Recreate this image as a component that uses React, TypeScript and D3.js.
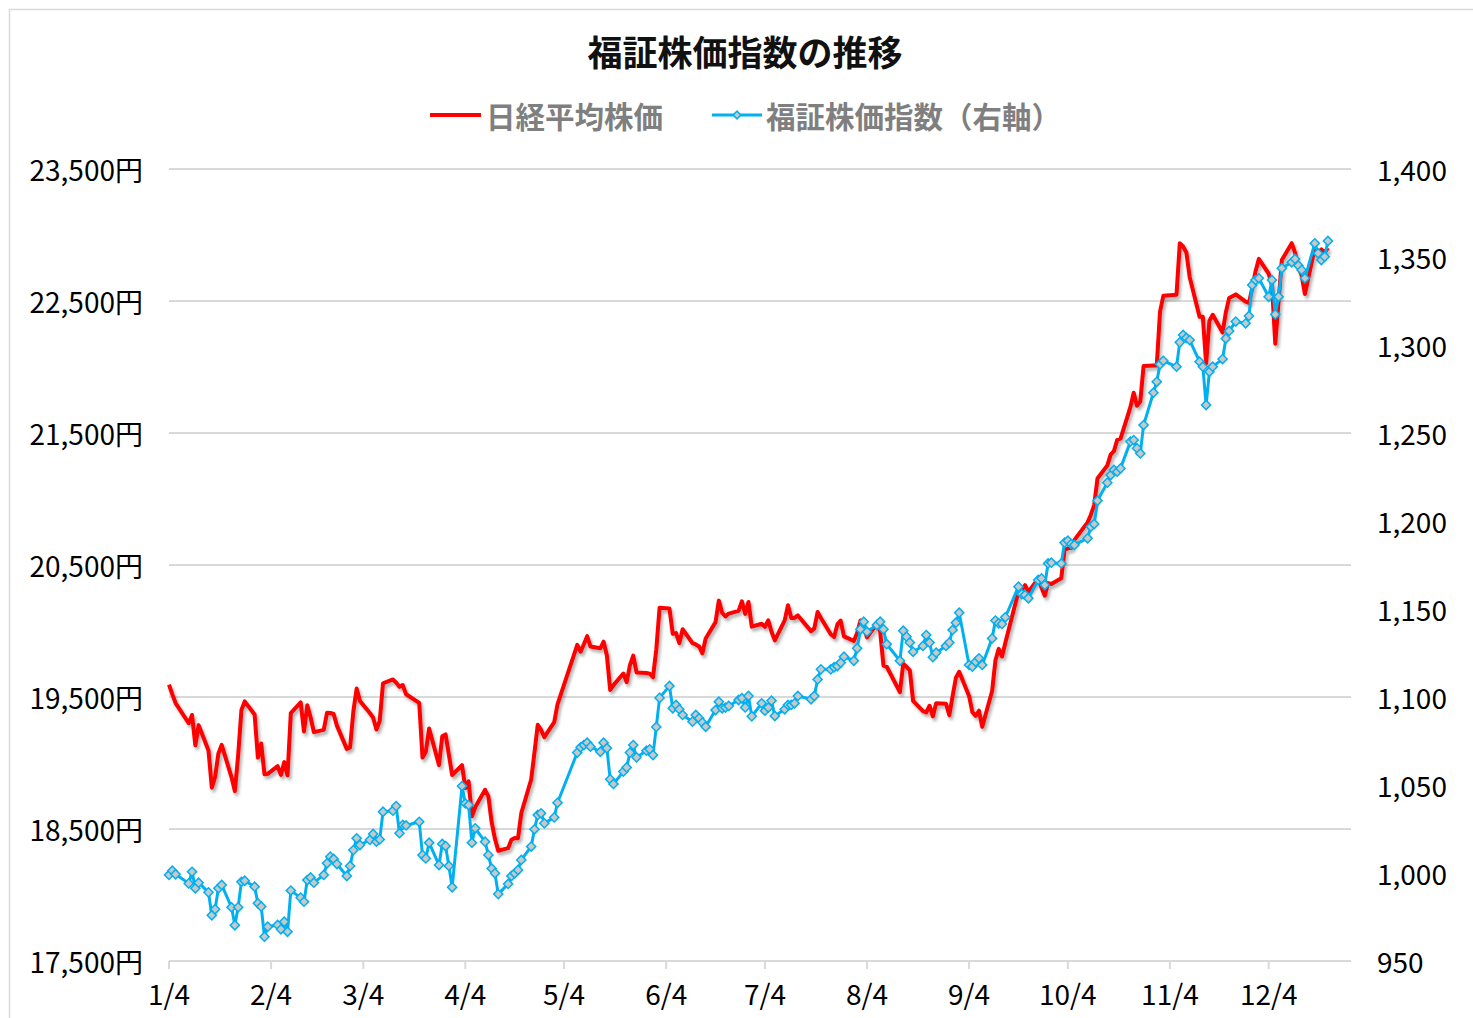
import React, { useEffect, useRef } from 'react';
import * as d3 from 'd3';

const chartTitle = '福証株価指数の推移';
const nikkeiName = '日経平均株価';
const fukushoName = '福証株価指数（右軸）';

// 2017 trading days, one row per month
const tradingDays = [
  [4, 5, 6, 10, 11, 12, 13, 16, 17, 18, 19, 20, 23, 24, 25, 26, 27, 30, 31],
  [1, 2, 3, 6, 7, 8, 9, 10, 13, 14, 15, 16, 17, 20, 21, 22, 23, 24, 27, 28],
  [1, 2, 3, 6, 7, 8, 9, 10, 13, 14, 15, 16, 17, 21, 22, 23, 24, 27, 28, 29, 30, 31],
  [3, 4, 5, 6, 7, 10, 11, 12, 13, 14, 17, 18, 19, 20, 21, 24, 25, 26, 27, 28],
  [1, 2, 8, 9, 10, 11, 12, 15, 16, 17, 18, 19, 22, 23, 24, 25, 26, 29, 30, 31],
  [1, 2, 5, 6, 7, 8, 9, 12, 13, 14, 15, 16, 19, 20, 21, 22, 23, 26, 27, 28, 29, 30],
  [3, 4, 5, 6, 7, 10, 11, 12, 13, 14, 18, 19, 20, 21, 24, 25, 26, 27, 28, 31],
  [1, 2, 3, 4, 7, 8, 9, 10, 14, 15, 16, 17, 18, 21, 22, 23, 24, 25, 28, 29, 30, 31],
  [1, 4, 5, 6, 7, 8, 11, 12, 13, 14, 15, 19, 20, 21, 22, 25, 26, 27, 28, 29],
  [2, 3, 4, 5, 6, 10, 11, 12, 13, 16, 17, 18, 19, 20, 23, 24, 25, 26, 27, 30, 31],
  [1, 2, 6, 7, 8, 9, 10, 13, 14, 15, 16, 17, 20, 21, 22, 24, 27, 28, 29, 30],
  [1, 4, 5, 6, 7, 8, 11, 12, 13, 14, 15, 18, 19, 20, 21, 22],
];

// 日経平均株価 (left axis, 円)
const nikkei = [
  19594, 19520, 19454, 19301, 19364, 19134, 19287, 19095, 18813, 18894, 19072, 19137, 18891, 18787, 19057, 19402, 19467, 19368, 19041,
  19148, 18914, 18918, 18976, 18910, 19007, 18907, 19378, 19459, 19238, 19437, 19347, 19234, 19251, 19381, 19379, 19371, 19283, 19107, 19118,
  19393, 19564, 19469, 19379, 19344, 19254, 19318, 19604, 19633, 19609, 19577, 19590, 19521, 19455, 19041, 19085, 19262, 18985, 19202, 19217, 19063, 18909,
  18983, 18810, 18861, 18597, 18664, 18797, 18747, 18552, 18426, 18335, 18355, 18418, 18432, 18430, 18620, 18875, 19079, 19289, 19251, 19196,
  19310, 19445, 19895, 19843, 19900, 19961, 19883, 19869, 19919, 19814, 19553, 19590, 19678, 19613, 19742, 19813, 19686, 19682, 19677, 19650,
  19860, 20177, 20170, 19979, 19984, 19909, 20013, 19908, 19898, 19883, 19831, 19943, 20067, 20230, 20138, 20110, 20132, 20153, 20225, 20130, 20220, 20033,
  20055, 20032, 20081, 19994, 19929, 20080, 20195, 20098, 20099, 20118, 19999, 20020, 20144, 20099, 19975, 19955, 20050, 20079, 19959, 19925,
  19985, 20080, 20029, 19952, 20055, 19996, 19738, 19729, 19537, 19753, 19729, 19702, 19470, 19393, 19383, 19434, 19353, 19452, 19449, 19362, 19506, 19646,
  19691, 19508, 19385, 19357, 19396, 19274, 19545, 19776, 19865, 19807, 19909, 20299, 20310, 20347, 20296, 20397, 20330, 20267, 20363, 20356,
  20400, 20614, 20626, 20628, 20690, 20823, 20881, 20954, 21155, 21255, 21336, 21363, 21448, 21457, 21696, 21805, 21707, 21739, 22008, 22011, 22011,
  22420, 22539, 22548, 22937, 22913, 22868, 22681, 22380, 22380, 22028, 22351, 22396, 22261, 22416, 22523, 22550, 22495, 22486, 22597, 22724,
  22819, 22707, 22622, 22177, 22498, 22811, 22938, 22866, 22758, 22694, 22553, 22901, 22868, 22891, 22866, 22902,
];

// 福証株価指数 (right axis)
const fukusho = [
  998.9, 1001.3, 999.3, 994.1, 1000.7, 991.3, 994.5, 989, 976, 979.4, 991.3, 993.2, 980.5, 970.3, 980.5, 995, 995.6, 992.2, 982.8,
  980.9, 963.8, 969.5, 970.5, 968, 972.3, 966.6, 990, 986, 983.7, 996, 997.5, 994.5, 998.9, 1005.5, 1009.3, 1008, 1005.1, 998.3, 1004,
  1013, 1019.7, 1015.9, 1018.8, 1022.2, 1017.8, 1019.1, 1034.8, 1035.4, 1038, 1022.6, 1027.3, 1027, 1029.1, 1010.2, 1008.3, 1017.2, 1004.5, 1016.5, 1015.3, 1004, 991.9,
  1049.4, 1039.5, 1038.6, 1017.2, 1025.4, 1017.8, 1010.2, 1002.6, 999.8, 988, 993.8, 998.3, 999.8, 1001.7, 1007.4, 1015, 1024.8, 1033, 1033.9, 1028.2,
  1031.6, 1039.9, 1068.4, 1071.4, 1072.7, 1074, 1071.8, 1068.9, 1074, 1070.9, 1053.2, 1050.6, 1057.6, 1060, 1068.4, 1072.7, 1065.7, 1069.5, 1070.3, 1067,
  1083, 1099.5, 1106.3, 1093.6, 1095.5, 1093, 1089.8, 1086, 1089.8, 1087.9, 1085.5, 1083.1, 1092.6, 1097.3, 1093.6, 1094, 1094.9, 1098.3, 1099.3, 1094.1, 1100.6, 1089,
  1096.4, 1092.2, 1094, 1097.9, 1089.2, 1093, 1095.5, 1095.5, 1096.4, 1100.6, 1098.7, 1100.6, 1110, 1115.7, 1115.7, 1116.9, 1117.6, 1119.5, 1122.9, 1120.6,
  1127.7, 1138.5, 1142.8, 1137.1, 1140.9, 1142.8, 1138.5, 1130, 1120.6, 1137.7, 1134.3, 1131, 1125.7, 1129, 1135.2, 1130.9, 1122.6, 1125.2, 1129, 1130.9, 1138.1, 1142.2,
  1147.9, 1118.2, 1117.2, 1120, 1122, 1118.2, 1133.3, 1143.4, 1141.9, 1141.5, 1145.3, 1162.7, 1158.5, 1158, 1156.1, 1166.5, 1167.4, 1163.6, 1175.9, 1176.3,
  1175.9, 1187.7, 1188.8, 1186.9, 1186.4, 1190.2, 1196.8, 1198.3, 1211.5, 1221.8, 1226.1, 1229, 1228, 1229.9, 1245.1, 1246, 1241.3, 1238.4, 1254.5, 1272.9, 1279.1,
  1289, 1291, 1287.7, 1301.5, 1305.7, 1304, 1302.8, 1290.5, 1287.7, 1265.9, 1284.8, 1287.7, 1292, 1303.7, 1308, 1313.3, 1312.3, 1316.5, 1334.1, 1336.9,
  1337.9, 1327.4, 1336.9, 1317.4, 1327.4, 1343.6, 1347, 1348.9, 1345.1, 1342.6, 1337.9, 1357.8, 1352.1, 1348.3, 1350.2, 1359.1,
];

const leftTicks = [17500, 18500, 19500, 20500, 21500, 22500, 23500];
const rightTicks = [950, 1000, 1050, 1100, 1150, 1200, 1250, 1300, 1350, 1400];
const monthTicks = ['1/4', '2/4', '3/4', '4/4', '5/4', '6/4', '7/4', '8/4', '9/4', '10/4', '11/4', '12/4'];

const FONT = "'Noto Sans CJK JP', 'Noto Sans', sans-serif";
const BLUE = '#00b0f0';

const App = () => {
  const svgRef = useRef(null);

  useEffect(() => {
    const width = 1473;
    const height = 1018;
    const svg = d3.select(svgRef.current);
    svg.selectAll('*').remove();

    const dates = tradingDays.flatMap((days, m) => days.map((d) => new Date(2017, m, d)));
    const x = d3
      .scaleTime()
      .domain([new Date(2017, 0, 4), new Date(2017, 11, 29)])
      .range([169, 1351]);
    const yL = d3.scaleLinear().domain([17500, 23500]).range([961, 169]);
    const yR = d3.scaleLinear().domain([950, 1400]).range([961, 169]);

    const defs = svg.append('defs');
    defs
      .append('filter')
      .attr('id', 'shadow')
      .attr('x', '-5%')
      .attr('y', '-5%')
      .attr('width', '110%')
      .attr('height', '110%')
      .append('feDropShadow')
      .attr('dx', 2)
      .attr('dy', 3)
      .attr('stdDeviation', 1.8)
      .attr('flood-color', '#000')
      .attr('flood-opacity', 0.3);

    svg
      .append('rect')
      .attr('x', 9.5)
      .attr('y', 9.5)
      .attr('width', width)
      .attr('height', height)
      .attr('fill', '#fff')
      .attr('stroke', '#d9d9d9')
      .attr('stroke-width', 1.5);

    // title
    svg
      .append('text')
      .attr('x', 745)
      .attr('y', 50)
      .attr('text-anchor', 'middle')
      .attr('dominant-baseline', 'central')
      .style('font-family', FONT)
      .style('font-size', '35px')
      .style('font-weight', 'bold')
      .attr('fill', '#111')
      .text(chartTitle);

    // legend
    const lg = svg.append('g').style('font-family', FONT);
    lg.append('line')
      .attr('x1', 430).attr('x2', 481).attr('y1', 115).attr('y2', 115)
      .attr('stroke', '#ff0000').attr('stroke-width', 4);
    lg.append('text')
      .attr('x', 486).attr('y', 115)
      .attr('dominant-baseline', 'central')
      .style('font-size', '29.5px').style('font-weight', 'bold')
      .attr('fill', '#7f7f7f')
      .text(nikkeiName);
    lg.append('line')
      .attr('x1', 712).attr('x2', 762).attr('y1', 115).attr('y2', 115)
      .attr('stroke', BLUE).attr('stroke-width', 3);
    lg.append('path')
      .attr('d', d3.symbol(d3.symbolSquare).size(30)())
      .attr('transform', 'translate(737,115) rotate(45)')
      .attr('fill', '#c8c8c8').attr('stroke', BLUE).attr('stroke-width', 1.5);
    lg.append('text')
      .attr('x', 766).attr('y', 115)
      .attr('dominant-baseline', 'central')
      .style('font-size', '29.5px').style('font-weight', 'bold')
      .attr('fill', '#7f7f7f')
      .text(fukushoName);

    // gridlines
    const [x0, x1] = x.range();
    svg
      .append('g')
      .selectAll('line')
      .data(leftTicks)
      .enter()
      .append('line')
      .attr('x1', x0)
      .attr('x2', x1)
      .attr('y1', (d) => yL(d))
      .attr('y2', (d) => yL(d))
      .attr('stroke', '#d9d9d9')
      .attr('stroke-width', 2);

    // x ticks
    const monthDates = monthTicks.map((t) => {
      const [m, d] = t.split('/').map(Number);
      return new Date(2017, m - 1, d);
    });
    svg
      .append('g')
      .selectAll('line')
      .data(monthDates)
      .enter()
      .append('line')
      .attr('x1', (d) => x(d))
      .attr('x2', (d) => x(d))
      .attr('y1', 961)
      .attr('y2', 969)
      .attr('stroke', '#d9d9d9')
      .attr('stroke-width', 2);

    const labels = svg.append('g').style('font-family', FONT).style('font-size', '28px').attr('fill', '#000');
    labels
      .selectAll('text.l')
      .data(leftTicks)
      .enter()
      .append('text')
      .attr('class', 'l')
      .attr('x', 143)
      .attr('y', (d) => yL(d))
      .attr('text-anchor', 'end')
      .attr('dominant-baseline', 'central')
      .text((d) => `${d3.format(',')(d)}円`);
    labels
      .selectAll('text.r')
      .data(rightTicks)
      .enter()
      .append('text')
      .attr('class', 'r')
      .attr('x', 1377)
      .attr('y', (d) => yR(d))
      .attr('dominant-baseline', 'central')
      .text((d) => d3.format(',')(d));
    labels
      .selectAll('text.x')
      .data(monthDates)
      .enter()
      .append('text')
      .attr('class', 'x')
      .attr('x', (d) => x(d))
      .attr('y', 993)
      .attr('text-anchor', 'middle')
      .attr('dominant-baseline', 'central')
      .text((d, i) => monthTicks[i]);

    // 日経平均株価
    const redLine = d3
      .line()
      .x((d, i) => x(dates[i]))
      .y((d) => yL(d));
    svg
      .append('path')
      .datum(nikkei)
      .attr('d', redLine)
      .attr('fill', 'none')
      .attr('stroke', '#ff0000')
      .attr('stroke-width', 4)
      .attr('stroke-linejoin', 'round')
      .attr('filter', 'url(#shadow)');

    // 福証株価指数
    const blueLine = d3
      .line()
      .x((d, i) => x(dates[i]))
      .y((d) => yR(d));
    svg
      .append('path')
      .datum(fukusho)
      .attr('d', blueLine)
      .attr('fill', 'none')
      .attr('stroke', BLUE)
      .attr('stroke-width', 3)
      .attr('stroke-linejoin', 'round');

    const marker = d3.symbol(d3.symbolSquare).size(42)();
    svg
      .append('g')
      .selectAll('path')
      .data(fukusho)
      .enter()
      .append('path')
      .attr('d', marker)
      .attr('transform', (d, i) => `translate(${x(dates[i])},${yR(d)}) rotate(45)`)
      .attr('fill', '#c8c8c8')
      .attr('stroke', BLUE)
      .attr('stroke-width', 1.5);
  }, []);

  return (
    <div style={{ position: 'absolute', left: 0, top: 0, width: 1473, height: 1018, overflow: 'hidden' }}>
      <svg ref={svgRef} width={1473} height={1018}></svg>
    </div>
  );
};

export default App;
